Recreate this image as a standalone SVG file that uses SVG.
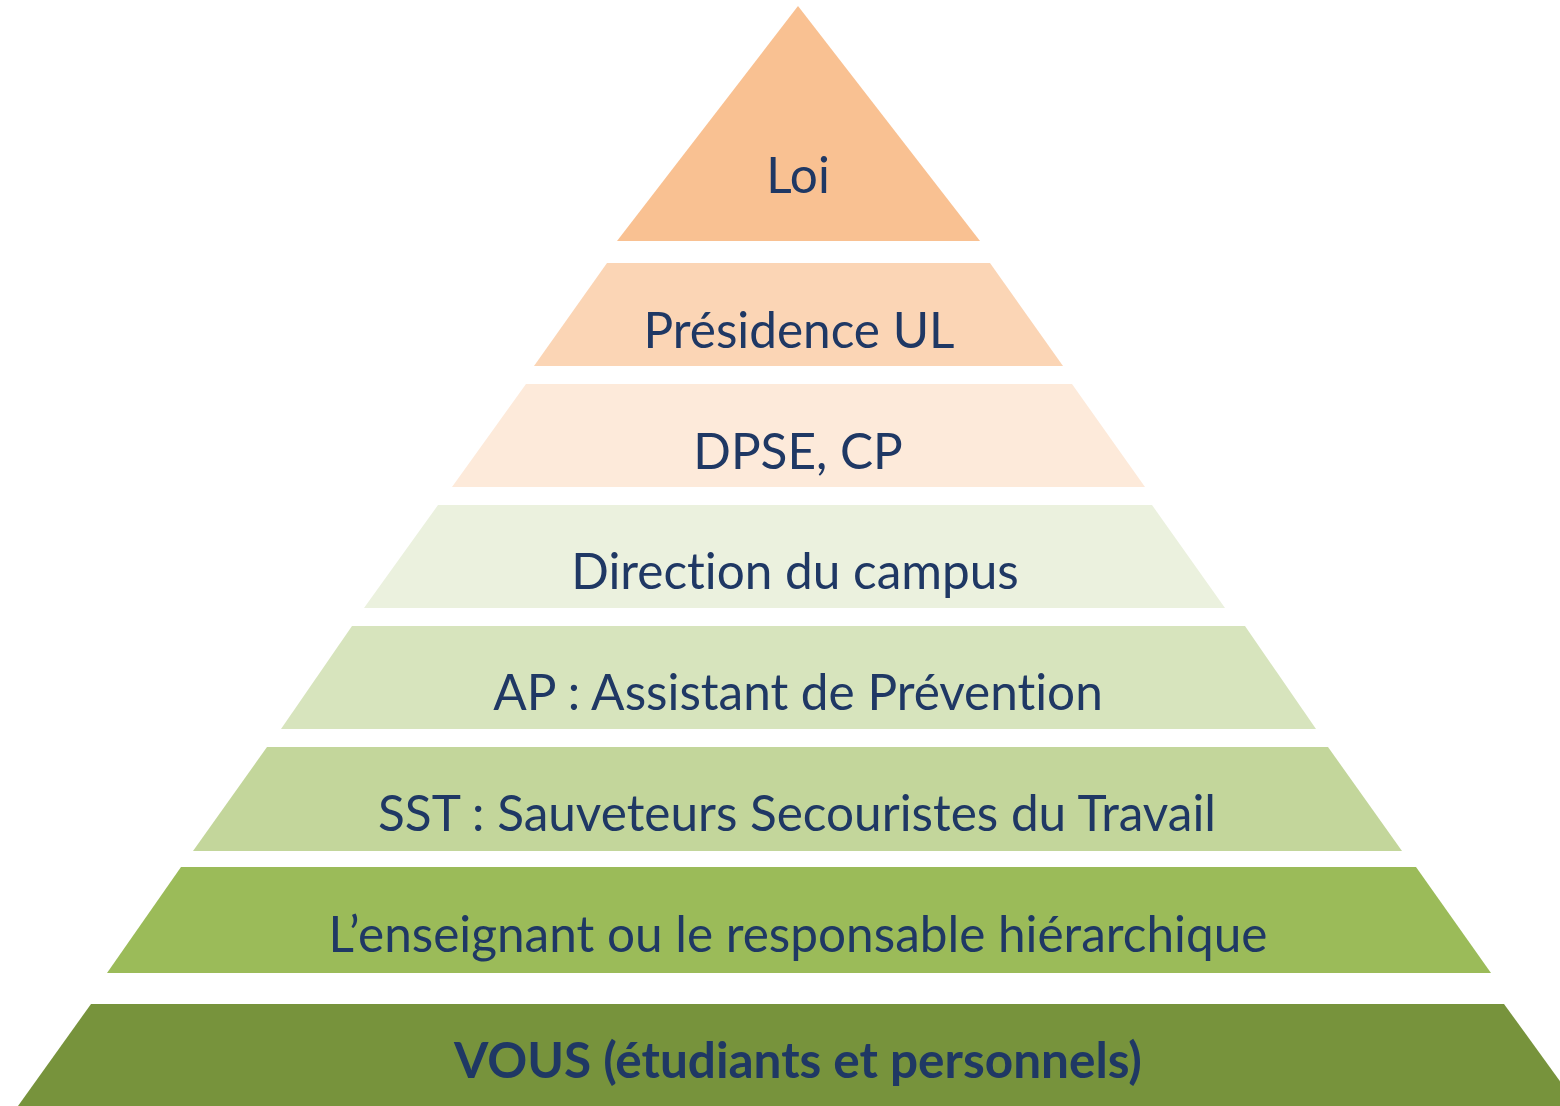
<svg xmlns="http://www.w3.org/2000/svg" width="1560" height="1106" viewBox="0 0 1560 1106">
<style>
text{font-family:Lato,"Open Sans","Liberation Sans",sans-serif;font-size:49.5px;fill:#1F3864;text-anchor:middle;font-variant-ligatures:none}
.b{font-weight:bold}
</style>
<rect width="1560" height="1106" fill="#fff"/>
<g id="n1"><polygon points="798,6 980,241 617,241" fill="#F9C192"/><text x="798" y="193">Loi</text></g>
<g id="n2"><polygon points="607,263 990,263 1063,366 534,366" fill="#FBD5B5"/><text x="799" y="348">Présidence UL</text></g>
<g id="n3"><polygon points="526,384 1072,384 1145,487 452,487" fill="#FDEADA"/><text x="798" y="469">DPSE, CP</text></g>
<g id="n4"><polygon points="438,505 1152,505 1225,608 364,608" fill="#EBF1DE"/><text x="795" y="589">Direction du campus</text></g>
<g id="n5"><polygon points="352,626 1245,626 1316,729 281,729" fill="#D7E4BD"/><text x="798" y="710">AP : Assistant de Prévention</text></g>
<g id="n6"><polygon points="267,747 1328,747 1402,851 193,851" fill="#C3D69B"/><text x="797" y="831">SST : Sauveteurs Secouristes du Travail</text></g>
<g id="n7"><polygon points="181,867 1416,867 1491,973 107,973" fill="#9BBB59"/><text x="798" y="952">L’enseignant ou le responsable hiérarchique</text></g>
<g id="n8"><polygon points="91,1004 1504,1004 1578,1106 18,1106" fill="#77933C"/><text class="b" x="798" y="1078">VOUS (étudiants et personnels)</text></g>
<g id="connectors"/>
</svg>
